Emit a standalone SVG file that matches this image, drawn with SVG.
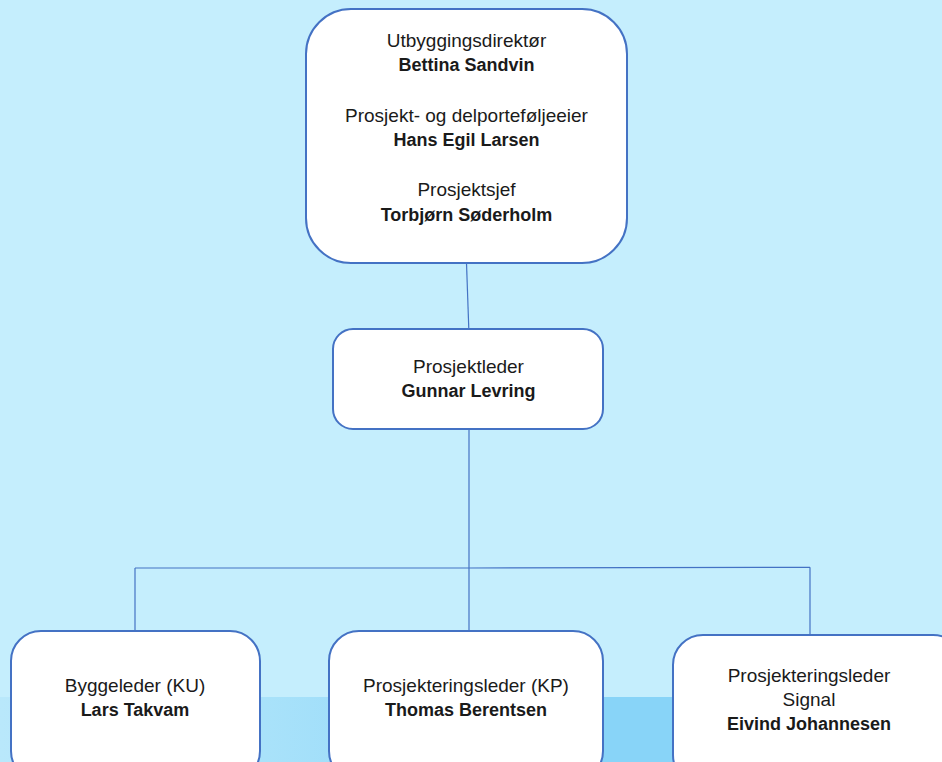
<svg xmlns="http://www.w3.org/2000/svg" width="942" height="762" viewBox="0 0 942 762">
<defs>
<linearGradient id="band" x1="0" y1="0" x2="942" y2="0" gradientUnits="userSpaceOnUse">
<stop offset="0" stop-color="#b9e8fb"/>
<stop offset="0.28" stop-color="#a9e2fa"/>
<stop offset="0.62" stop-color="#88d4f8"/>
<stop offset="1" stop-color="#88d4f8"/>
</linearGradient>
</defs>
<style>
.box{fill:#ffffff;stroke:#4472c4;stroke-width:2}
.conn{stroke:#4472c4;stroke-width:1.2;fill:none}
text{font-family:"Liberation Sans",Arial,sans-serif;fill:#1a1a1a;text-anchor:middle}
.r{font-size:19px}
.b{font-size:18px;font-weight:bold}
</style>
<rect x="0" y="0" width="942" height="762" fill="#c5eefd"/>
<rect x="0" y="697" width="942" height="65" fill="url(#band)"/>
<g id="connectors">
<line class="conn" x1="466.5" y1="263" x2="468.8" y2="329"/>
<line class="conn" x1="469" y1="429" x2="469" y2="568"/>
<polyline class="conn" points="135,568 469,568 810,567.3"/>
<line class="conn" x1="135" y1="568" x2="135" y2="631"/>
<line class="conn" x1="469" y1="568" x2="469" y2="631"/>
<line class="conn" x1="810" y1="567.3" x2="810" y2="635"/>
</g>
<g id="top">
<rect class="box" x="306" y="9" width="321" height="254" rx="45"/>
<text class="r" x="466.5" y="47">Utbyggingsdirektør</text>
<text class="b" x="466.5" y="71">Bettina Sandvin</text>
<text class="r" x="466.5" y="122">Prosjekt- og delporteføljeeier</text>
<text class="b" x="466.5" y="146">Hans Egil Larsen</text>
<text class="r" x="466.5" y="196">Prosjektsjef</text>
<text class="b" x="466.5" y="221">Torbjørn Søderholm</text>
</g>
<g id="prosjektleder">
<rect class="box" x="333" y="329" width="270" height="100" rx="20"/>
<text class="r" x="468.5" y="373">Prosjektleder</text>
<text class="b" x="468.5" y="397">Gunnar Levring</text>
</g>
<g id="byggeleder">
<rect class="box" x="11" y="631" width="249" height="150" rx="30"/>
<text class="r" x="135" y="692">Byggeleder (KU)</text>
<text class="b" x="135" y="716">Lars Takvam</text>
</g>
<g id="prosjekteringsleder-kp">
<rect class="box" x="329" y="631" width="274" height="150" rx="30"/>
<text class="r" x="466" y="692">Prosjekteringsleder (KP)</text>
<text class="b" x="466" y="716">Thomas Berentsen</text>
</g>
<g id="prosjekteringsleder-signal">
<rect class="box" x="673" y="635" width="290" height="150" rx="30"/>
<text class="r" x="809" y="682">Prosjekteringsleder</text>
<text class="r" x="809" y="706">Signal</text>
<text class="b" x="809" y="730">Eivind Johannesen</text>
</g>
</svg>
